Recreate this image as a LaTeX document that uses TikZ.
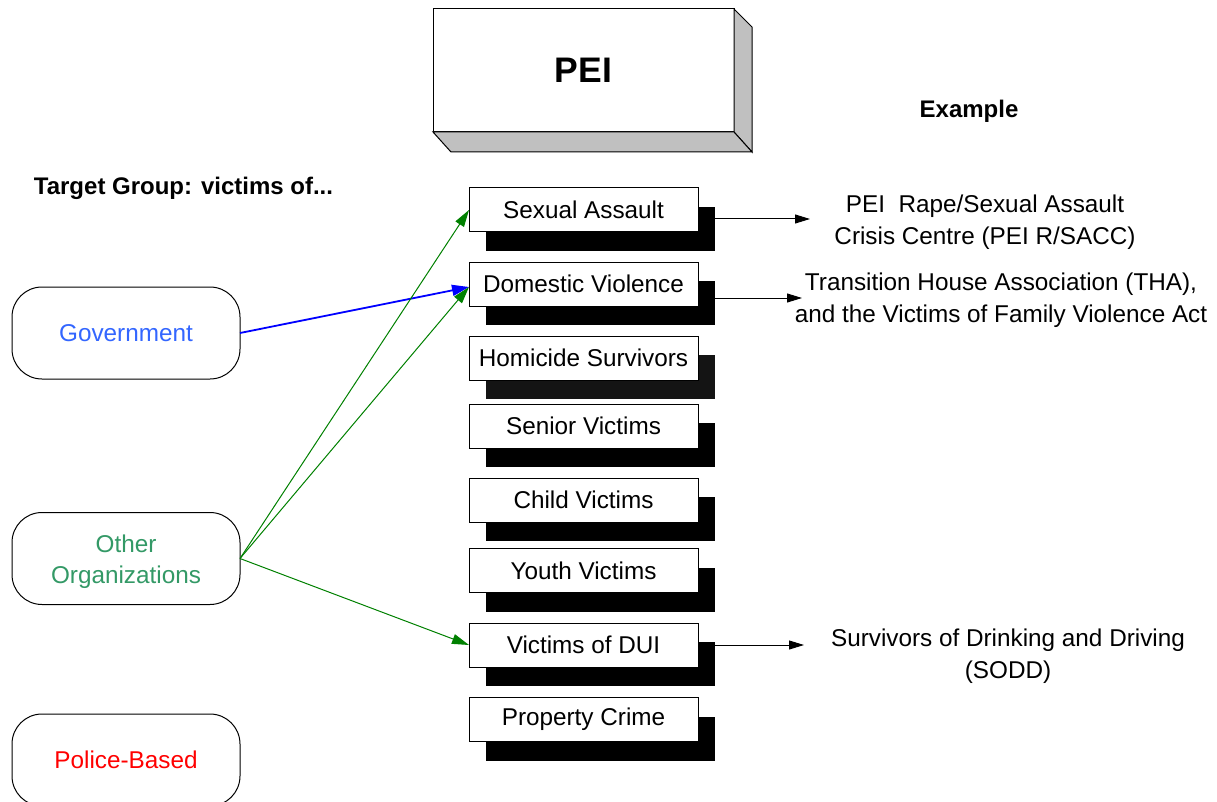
\documentclass[tikz,border=0pt]{standalone}
\usepackage{fontspec}
\setmainfont{Liberation Sans}
\usetikzlibrary{arrows.meta,shadows,calc}
\definecolor{govblue}{HTML}{3366FF}
\definecolor{orggreen}{HTML}{339966}
\definecolor{linkgreen}{HTML}{008000}
\definecolor{linkblue}{HTML}{0000FF}
\definecolor{sidegray}{HTML}{C0C0C0}
\begin{document}
\begin{tikzpicture}[x=1pt,y=-1pt,
  every node/.style={inner sep=0pt,outer sep=0pt},
  txt/.style={font=\fontsize{24.3}{31.5}\selectfont,align=center},
  heading/.style={font=\fontsize{24}{28}\selectfont\bfseries},
  catbox/.style={draw=black,line width=1pt,fill=white,minimum width=229pt,
    minimum height=44pt,txt,
    general shadow={fill=black,shadow xshift=17pt,shadow yshift=-19pt}},
  grpbox/.style={draw=black,line width=1pt,fill=white,rounded corners=30pt,
    minimum width=228pt,minimum height=92pt,txt},
  blueline/.style={linkblue,line width=1.8pt,-{Triangle[length=17pt,width=11pt]}},
  greenline/.style={linkgreen,line width=1pt,-{Triangle[length=17pt,width=10pt]}},
  exline/.style={black,line width=1pt,-{Triangle[length=15pt,width=9pt]}}
]
\useasboundingbox (0,0) rectangle (1217,802);
\clip (0,0) rectangle (1217,802);

% title block drawn as a raised box
\node[draw=black,line width=1pt,fill=white,minimum width=301pt,minimum height=123pt,
  font=\fontsize{35.5}{38}\selectfont\bfseries] (pei) at (583.5,70.5) {PEI};
\draw[line width=1pt,fill=sidegray] (pei.north east) -- ++(18,18)
  -- ($(pei.south east)+(18,20)$) -- (pei.south east) -- cycle;
\draw[line width=1pt,fill=sidegray] (pei.south west) -- (pei.south east)
  -- ++(18,20) -- ($(pei.south west)+(18,20)$) -- cycle;

% headings
\node[heading] (tg) at (183.5,188) {Target Group: victims of...};
\node[heading] (ex) at (969,111) {Example};

% groups of agencies
\node[grpbox,text=govblue] (gov) at (126,333) {Government};
\node[grpbox] (org) at (126,558.5) {};
\node[txt,text=orggreen] (orgtext) at ($(org.center)+(0,3)$) {Other\\Organizations};
\node[grpbox,text=red] (pol) at (126,760) {Police-Based};

% target groups
\node[catbox] (sa) at (583.5,210) {Sexual Assault};
\node[catbox] (dv) at (583.5,284) {Domestic Violence};
\node[catbox,general shadow={fill=black!92,shadow xshift=17pt,shadow yshift=-19pt}]
  (hs) at (583.5,358) {Homicide Survivors};
\node[catbox] (sv) at (583.5,426) {Senior Victims};
\node[catbox] (cv) at (583.5,500) {Child Victims};
\node[catbox] (yv) at (583.5,570.5) {Youth Victims};
\node[catbox] (dui) at (583.5,645) {Victims of DUI};
\node[catbox] (pc) at (583.5,719.5) {Property Crime};

% examples
\node[txt] (saex) at (985,222) {PEI\ \ Rape/Sexual Assault\\Crisis Centre (PEI R/SACC)};
\node[txt] (dvex) at (1001,300) {Transition House Association (THA),\\and the Victims of Family Violence Act};
\node[txt] (duiex) at (1008,656) {Survivors of Drinking and Driving\\(SODD)};

\coordinate (saend) at (810,219);
\coordinate (dvend) at (802,298);
\coordinate (duiend) at (804,645);

% links
\draw[blueline] (gov.east) -- ($(dv.west)+(0,3)$);
\draw[greenline] (org.east) -- (sa.west);
\draw[greenline] (org.east) -- ($(dv.west)+(0,3)$);
\draw[greenline] (org.east) -- (dui.west);

\draw[exline] ($(sa.east)+(17,9)$) -- (saend);
\draw[exline] ($(dv.east)+(17,14)$) -- (dvend);
\draw[exline] ($(dui.east)+(17,0)$) -- (duiend);
\end{tikzpicture}
\end{document}
